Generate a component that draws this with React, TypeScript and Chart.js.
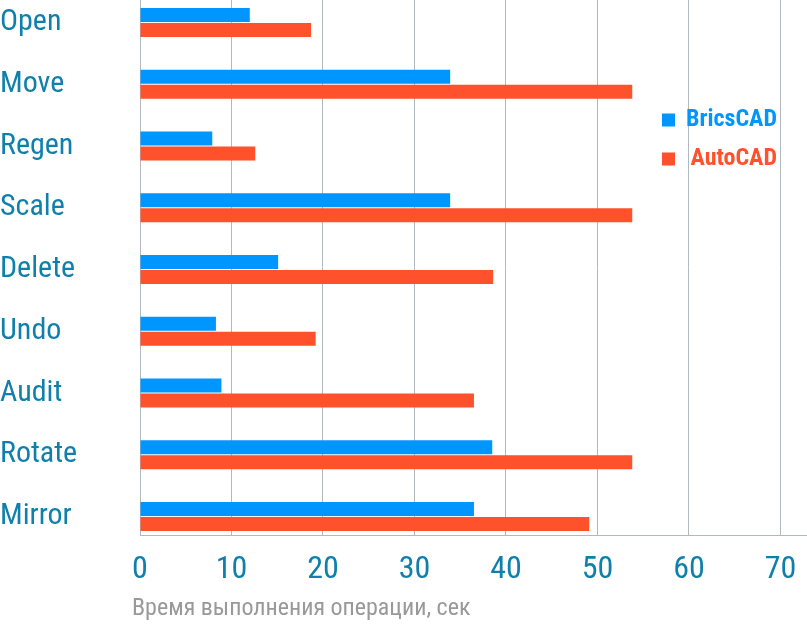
import React, { useEffect, useRef } from "react";
import { Chart, registerables } from "chart.js";

Chart.register(...registerables);

const categories = ["Open", "Move", "Regen", "Scale", "Delete", "Undo", "Audit", "Rotate", "Mirror"];
const bricscad = [12.0, 33.9, 7.9, 33.9, 15.1, 8.3, 8.9, 38.5, 36.5];
const autocad = [18.7, 53.8, 12.6, 53.8, 38.6, 19.2, 36.5, 53.8, 49.1];
const xTicks = [0, 10, 20, 30, 40, 50, 60, 70];
const seriesNames = ["BricsCAD", "AutoCAD"];
const axisTitle = "Время выполнения операции, сек";

const BLUE = "#0096ff";
const RED = "#ff512b";
const LABEL = "#0f7fab";
const GRID = "#b1b8c0";
const COND = "'Roboto Condensed', 'Liberation Sans Narrow', 'DejaVu Sans Condensed', Roboto, sans-serif";

const legendPlugin = {
  id: "sideLegend",
  afterDraw(chart: any) {
    const ctx = chart.ctx;
    ctx.save();
    const rows = [120, 159];
    chart.data.datasets.forEach((ds: any, i: number) => {
      const cy = rows[i];
      ctx.fillStyle = ds.backgroundColor;
      ctx.fillRect(662, cy - 6.5, 13, 13);
      ctx.font = "bold 24px " + COND;
      ctx.textAlign = "right";
      ctx.textBaseline = "middle";
      ctx.fillStyle = ds.backgroundColor;
      ctx.fillText(ds.label, 777, cy);
    });
    // axis title, slightly left of the plot's left edge as in the original
    const xs = chart.scales.x;
    ctx.font = "24px " + COND;
    ctx.fillStyle = "#999999";
    ctx.textAlign = "left";
    ctx.textBaseline = "middle";
    ctx.fillText(axisTitle, xs.left - 8, 609);
    ctx.restore();
  },
};

export default function App() {
  const ref = useRef<HTMLCanvasElement | null>(null);
  useEffect(() => {
    document.body.style.margin = "0";
    const canvas = ref.current!;
    const chart = new Chart(canvas, {
      type: "bar",
      data: {
        datasets: [
          {
            label: seriesNames[0],
            data: bricscad.map((v, i) => ({ x: v, y: i })),
            backgroundColor: BLUE,
          },
          {
            label: seriesNames[1],
            data: autocad.map((v, i) => ({ x: v, y: i })),
            backgroundColor: RED,
          },
        ],
      },
      options: {
        indexAxis: "y",
        animation: false,
        responsive: false,
        maintainAspectRatio: false,
        layout: { padding: 0 },
        categoryPercentage: 30 / 61.75,
        barPercentage: 14 / 15,
        plugins: { legend: { display: false }, tooltip: { enabled: false } },
        scales: {
          x: {
            type: "linear",
            min: 0,
            max: 72.9,
            afterBuildTicks: (scale: any) => {
              scale.ticks = xTicks.map((v) => ({ value: v }));
            },
            afterFit: (scale: any) => {
              scale.height = 90;
              scale.paddingLeft = 0;
              scale.paddingRight = 0;
            },
            grid: { color: GRID, lineWidth: 1, drawTicks: false },
            border: { color: GRID, width: 1 },
            ticks: {
              color: LABEL,
              padding: 16,
              font: { family: COND, size: 32 },
              maxRotation: 0,
            },
            title: { display: false },
          },
          y: {
            type: "linear",
            reverse: true,
            offset: false,
            min: -22.5 / 61.75,
            max: (535 - 22.5) / 61.75,
            afterBuildTicks: (scale: any) => {
              scale.ticks = categories.map((_, i) => ({ value: i }));
            },
            afterFit: (scale: any) => {
              scale.width = 140;
              scale.paddingTop = 0;
              scale.paddingBottom = 0;
            },
            grid: { display: false, drawTicks: false, offset: false },
            border: { color: GRID, width: 1 },
            ticks: {
              color: LABEL,
              crossAlign: "far",
              padding: 0,
              font: { family: COND, size: 30 },
              callback: (v: any) => categories[v] ?? "",
            },
          },
        },
      } as any,
      plugins: [legendPlugin],
    });
    return () => chart.destroy();
  }, []);
  return (
    <div style={{ position: "absolute", left: 0, top: 0, width: 807, height: 625, background: "#fff" }}>
      <canvas ref={ref} width={807} height={625} style={{ width: 807, height: 625 }} />
    </div>
  );
}
